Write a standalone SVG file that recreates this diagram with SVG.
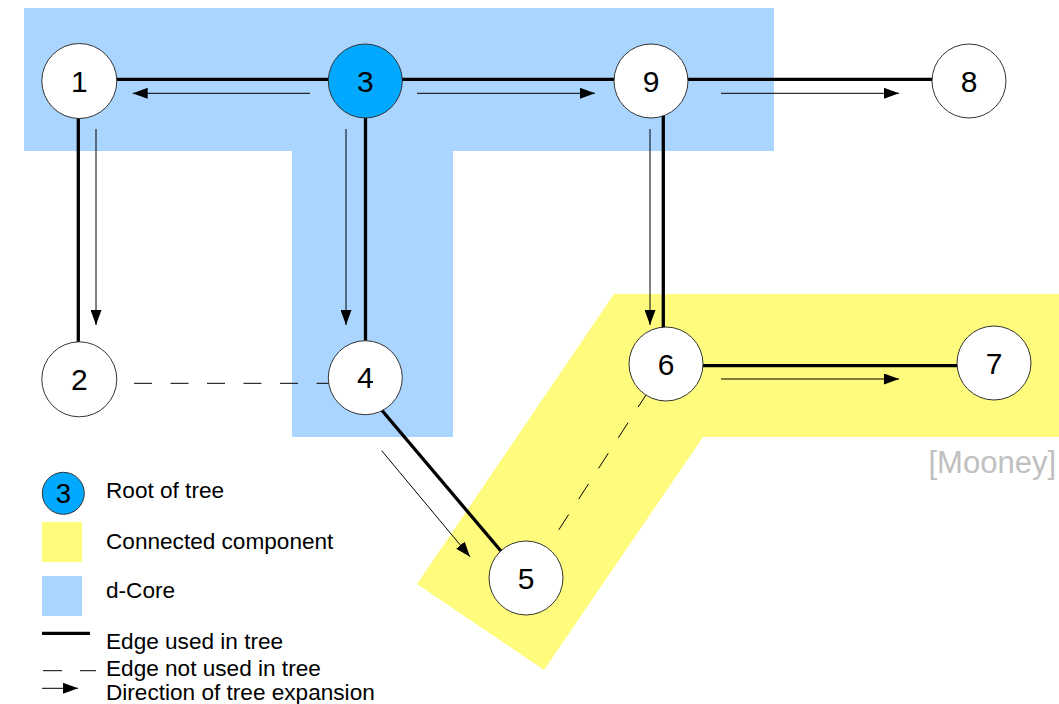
<svg xmlns="http://www.w3.org/2000/svg" width="1059" height="704" viewBox="0 0 1059 704">
  <style>
    .node circle { fill: #ffffff; stroke: #333333; stroke-width: 1; }
    .node.root circle { fill: #00a9ff; }
    .node text { font-family: "Liberation Sans", Arial, sans-serif; font-size: 30px; fill: #000000; text-anchor: middle; }
    .tree { stroke: #000000; stroke-width: 3.3; fill: none; }
    .other { stroke: #000000; stroke-width: 1; stroke-dasharray: 18 18.5; fill: none; }
    .dir { stroke: #000000; stroke-width: 1; fill: none; marker-end: url(#head); }
    .legend text { font-family: "Liberation Sans", Arial, sans-serif; font-size: 22.6px; fill: #000000; }
    .credit { font-family: "Liberation Sans", Arial, sans-serif; font-size: 31px; fill: #c0c0c0; text-anchor: end; }
  </style>
  <defs>
    <marker id="head" markerUnits="userSpaceOnUse" markerWidth="15" markerHeight="11" refX="15" refY="5.5" orient="auto">
      <path d="M0,0 L15,5.5 L0,11 Z" fill="#000000"/>
    </marker>
  </defs>

  <rect width="1059" height="704" fill="#ffffff"/>

  <!-- regions -->
  <g id="regions">
    <path id="d-core" d="M24,8 H774 V151 H453 V437 H292 V151 H24 Z" fill="#aad5ff"/>
    <path id="component" d="M614,294 L1059,294 L1059,437 L703,437 L544,670 L417,584 Z" fill="#fffb7c"/>
  </g>

  <!-- connectors -->
  <g id="connectors">
    <!-- edges used in the tree -->
    <line class="tree" x1="79" y1="79.3" x2="969" y2="79.3"/>
    <line class="tree" x1="78.3" y1="100" x2="78.3" y2="360"/>
    <line class="tree" x1="365.5" y1="100" x2="365.5" y2="360"/>
    <line class="tree" x1="663.3" y1="100" x2="663.3" y2="345"/>
    <line class="tree" x1="666" y1="365.7" x2="994" y2="365.7"/>
    <line class="tree" x1="374" y1="401" x2="506" y2="557"/>
    <!-- edges not used in the tree -->
    <line class="other" x1="134" y1="383.3" x2="330" y2="383.3"/>
    <line class="other" x1="647.9" y1="392" x2="549" y2="545"/>
    <!-- direction of tree expansion -->
    <line class="dir" x1="310" y1="93.3" x2="132.7" y2="93.3"/>
    <line class="dir" x1="417" y1="93.3" x2="595" y2="93.3"/>
    <line class="dir" x1="721" y1="93.3" x2="899" y2="93.3"/>
    <line class="dir" x1="96" y1="129" x2="96" y2="325"/>
    <line class="dir" x1="346" y1="129" x2="346" y2="325"/>
    <line class="dir" x1="650" y1="129" x2="650" y2="325"/>
    <line class="dir" x1="721" y1="379" x2="899" y2="379"/>
    <line class="dir" x1="381.7" y1="450.7" x2="470" y2="556.7"/>
  </g>

  <!-- nodes -->
  <g id="node-1" class="node"><circle cx="79.3" cy="81" r="37.5"/><text x="79.3" y="91.7">1</text></g>
  <g id="node-3" class="node root"><circle cx="365.3" cy="81" r="37"/><text x="365.3" y="91.7">3</text></g>
  <g id="node-9" class="node"><circle cx="651" cy="81" r="37"/><text x="651" y="91.7">9</text></g>
  <g id="node-8" class="node"><circle cx="969" cy="81" r="37"/><text x="969" y="91.7">8</text></g>
  <g id="node-2" class="node"><circle cx="79.3" cy="379.3" r="37.5"/><text x="79.3" y="390">2</text></g>
  <g id="node-4" class="node"><circle cx="365.3" cy="377.7" r="37"/><text x="365.3" y="388.4">4</text></g>
  <g id="node-6" class="node"><circle cx="666" cy="364" r="37"/><text x="666" y="374.7">6</text></g>
  <g id="node-7" class="node"><circle cx="994" cy="363" r="37"/><text x="994" y="373.7">7</text></g>
  <g id="node-5" class="node"><circle cx="526" cy="578" r="37"/><text x="526" y="588.7">5</text></g>

  <text class="credit" x="1056" y="473.3">[Mooney]</text>

  <!-- legend -->
  <g id="legend" class="legend">
    <circle cx="63.3" cy="493.3" r="21" fill="#00a9ff" stroke="#333333" stroke-width="1"/>
    <text x="63.3" y="503.2" style="font-size:27.5px" text-anchor="middle">3</text>
    <text x="106" y="497.7">Root of tree</text>
    <rect x="42" y="522" width="40" height="40" fill="#fffb7c"/>
    <text x="106" y="549.3">Connected component</text>
    <rect x="42" y="576" width="40" height="40" fill="#aad5ff"/>
    <text x="106" y="598.3">d-Core</text>
    <line x1="42" y1="633.3" x2="90" y2="633.3" stroke="#000000" stroke-width="3.3"/>
    <text x="106" y="649.3">Edge used in tree</text>
    <line x1="43" y1="670.7" x2="62" y2="670.7" stroke="#000000" stroke-width="1"/>
    <line x1="80" y1="670.7" x2="96" y2="670.7" stroke="#000000" stroke-width="1"/>
    <text x="106" y="676">Edge not used in tree</text>
    <line class="dir" x1="42" y1="688.3" x2="78" y2="688.3"/>
    <text x="106" y="700">Direction of tree expansion</text>
  </g>
</svg>
